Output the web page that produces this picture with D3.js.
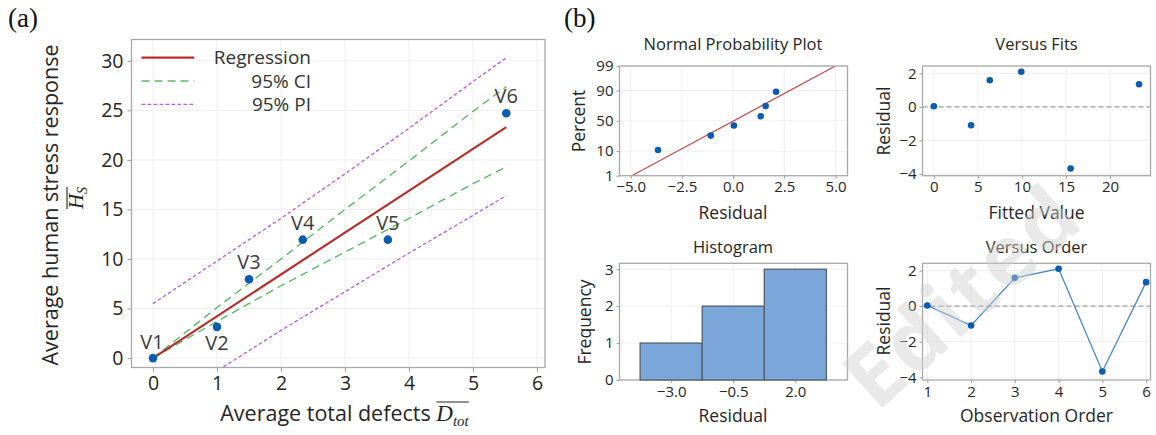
<!DOCTYPE html>
<html>
<head>
<meta charset="utf-8">
<script src="https://cdn.jsdelivr.net/npm/d3@7"></script>
<style>
body { margin: 0; background: #fff; }
svg { font-family: "Open Sans", sans-serif; }
</style>
</head>
<body>
<script>
// (a) regression data
const names = ["V1", "V2", "V3", "V4", "V5", "V6"];
const defects = [0, 1.0, 1.5, 2.34, 3.67, 5.52];
const stress = [0, 3.15, 7.95, 11.95, 11.95, 24.7];
const regX = [0, 5.52];
const regY = [0, 23.3];
const bandX = [0, 1, 2, 3, 4, 5, 5.52];
const ciUpper = [0, 5.1, 10.0, 15.0, 19.9, 24.9, 27.4];
const ciLower = [0, 3.7, 7.3, 10.7, 14.1, 17.6, 19.3];
const piUpper = [5.5, 9.8, 14.1, 18.6, 23.2, 27.9, 30.3];
const piLower = [-5.5, -1.3, 2.8, 6.7, 10.6, 14.4, 16.4];
const aXTicks = [0, 1, 2, 3, 4, 5, 6];
const aYTicks = [0, 5, 10, 15, 20, 25, 30];
const legendNames = ["Regression", "95% CI", "95% PI"];

// (b) residual plots
const fitted = [0, 4.23, 6.35, 9.93, 15.53, 23.3];
const residuals = [0.04, -1.09, 1.59, 2.1, -3.67, 1.35];
const order = [1, 2, 3, 4, 5, 6];
const nppPercent = [10.9, 26.6, 42.2, 57.8, 73.4, 89.1];
const nppLineR = [-4.95, 5.0];
const nppLineP = [1, 99];
const nppXTicks = [-5, -2.5, 0, 2.5, 5];
const nppYTicks = [1, 10, 50, 90, 99];
const fitsXTicks = [0, 5, 10, 15, 20];
const resYTicks = [-4, -2, 0, 2];
const histBins = [[-4.25, -1.75], [-1.75, 0.75], [0.75, 3.25]];
const histCounts = [1, 2, 3];
const histXTicks = [-3.0, -0.5, 2.0];
const histYTicks = [0, 1, 2, 3];

const ink = "#262626";
const dotBlue = "#0b5cad";

const svg = d3.select("body").append("svg")
    .attr("width", 1156).attr("height", 435);

// inverse normal cdf (Winitzki erfinv approximation), used for the probability axis
function probit(p) {
    const x = 2 * p - 1, a = 0.147;
    const ln = Math.log(1 - x * x);
    const t = 2 / (Math.PI * a) + ln / 2;
    return Math.SQRT2 * Math.sign(x) * Math.sqrt(Math.sqrt(t * t - ln / a) - t);
}

let clipCount = 0;
function panel(box, x, y, o) {
    const g = svg.append("g");
    g.append("rect").attr("x", box.l).attr("y", box.t)
        .attr("width", box.r - box.l).attr("height", box.b - box.t).attr("fill", "#fff");
    g.append("g").selectAll("line").data(o.xGrid).join("line")
        .attr("x1", d => x(d)).attr("x2", d => x(d))
        .attr("y1", box.t).attr("y2", box.b)
        .attr("stroke", "#eeeeee").attr("stroke-width", 1);
    g.append("g").selectAll("line").data(o.yGrid).join("line")
        .attr("y1", d => y(d)).attr("y2", d => y(d))
        .attr("x1", box.l).attr("x2", box.r)
        .attr("stroke", "#eeeeee").attr("stroke-width", 1);

    const ax = g.append("g").attr("transform", `translate(0,${box.b})`)
        .call(d3.axisBottom(x).tickValues(o.xTicks).tickFormat(o.xFmt)
            .tickSize(o.tick).tickPadding(o.xPad));
    const ay = g.append("g").attr("transform", `translate(${box.l},0)`)
        .call(d3.axisLeft(y).tickValues(o.yTicks).tickFormat(o.yFmt)
            .tickSize(o.tick).tickPadding(o.yPad));
    [ax, ay].forEach(a => {
        a.select(".domain").remove();
        a.selectAll(".tick line").attr("stroke", "#9a9a9a");
        a.selectAll(".tick text").attr("fill", ink)
            .attr("font-size", o.fs).attr("font-family", "Open Sans");
    });

    const id = "clip" + (clipCount++);
    svg.append("clipPath").attr("id", id).append("rect")
        .attr("x", box.l).attr("y", box.t)
        .attr("width", box.r - box.l).attr("height", box.b - box.t);
    const plot = g.append("g");
    const clipped = plot.append("g").attr("clip-path", `url(#${id})`);
    g.append("rect").attr("x", box.l).attr("y", box.t)
        .attr("width", box.r - box.l).attr("height", box.b - box.t)
        .attr("fill", "none").attr("stroke", "#a8a8a8").attr("stroke-width", 1.3);
    const marks = g.append("g");
    return { g, clipped, marks };
}

function label(text, x, y, fs, rotate) {
    return svg.append("text")
        .attr("transform", `translate(${x},${y})` + (rotate ? " rotate(-90)" : ""))
        .attr("text-anchor", "middle").attr("font-size", fs).attr("fill", ink)
        .text(text);
}

// ---------- (a) ----------
svg.append("text").attr("x", 8).attr("y", 27)
    .attr("font-family", "Liberation Serif").attr("font-size", 27).attr("fill", "#111").text("(a)");
svg.append("text").attr("x", 564).attr("y", 27)
    .attr("font-family", "Liberation Serif").attr("font-size", 27).attr("fill", "#111").text("(b)");

const boxA = { l: 131.5, r: 545, t: 39.5, b: 367.5 };
const xA = d3.scaleLinear().domain([-0.336, 6.125]).range([boxA.l, boxA.r]);
const yA = d3.scaleLinear().domain([-0.95, 32.15]).range([boxA.b, boxA.t]);
const pA = panel(boxA, xA, yA, {
    xGrid: aXTicks, yGrid: aYTicks, xTicks: aXTicks, yTicks: aYTicks,
    xFmt: d3.format("d"), yFmt: d3.format("d"), tick: 4, xPad: 5, yPad: 4, fs: 19.5
});

const bandLine = vals => d3.line().x((d, i) => xA(bandX[i])).y(d => yA(d))(vals);
[piUpper, piLower].forEach(v => pA.clipped.append("path").attr("d", bandLine(v))
    .attr("fill", "none").attr("stroke", "#bf55e6").attr("stroke-width", 1.3)
    .attr("stroke-dasharray", "3.5,2.5"));
[ciUpper, ciLower].forEach(v => pA.clipped.append("path").attr("d", bandLine(v))
    .attr("fill", "none").attr("stroke", "#5db86a").attr("stroke-width", 1.4)
    .attr("stroke-dasharray", "8,5"));
pA.clipped.append("path")
    .attr("d", d3.line().x((d, i) => xA(regX[i])).y(d => yA(d))(regY))
    .attr("fill", "none").attr("stroke", "#b3302e").attr("stroke-width", 2.2);

pA.marks.selectAll("circle").data(names).join("circle")
    .attr("cx", (d, i) => xA(defects[i])).attr("cy", (d, i) => yA(stress[i]))
    .attr("r", 4.3).attr("fill", dotBlue);
const below = ["V2"];
pA.marks.selectAll("text").data(names).join("text")
    .attr("x", (d, i) => xA(defects[i]) + (i === 0 ? -1 : 0))
    .attr("y", (d, i) => yA(stress[i]) + (below.includes(d) ? 23 : (i === 0 ? -9 : -10)))
    .attr("text-anchor", "middle").attr("font-size", 20).attr("fill", "#3c3c3c")
    .text(d => d);

// legend
const legStyles = [
    { c: "#b3302e", w: 2.2, dash: null },
    { c: "#5db86a", w: 1.4, dash: "8,5" },
    { c: "#bf55e6", w: 1.3, dash: "3.5,2.5" }
];
const leg = svg.append("g");
legendNames.forEach((n, i) => {
    const yy = 57.7 + i * 23.3;
    leg.append("line").attr("x1", 141.5).attr("x2", 194.3).attr("y1", yy).attr("y2", yy)
        .attr("stroke", legStyles[i].c).attr("stroke-width", legStyles[i].w)
        .attr("stroke-dasharray", legStyles[i].dash);
    leg.append("text").attr("x", 311).attr("y", yy + 6.5).attr("text-anchor", "end")
        .attr("font-size", 19).attr("fill", "#333").text(n);
});

// axis titles with math
label("Average human stress response", 58, 205, 21.5, true);
const hs = svg.append("g").attr("transform", "translate(83,198) rotate(-90)");
const hsT = hs.append("text").attr("text-anchor", "middle").attr("fill", ink)
    .attr("font-family", "Liberation Serif").attr("font-style", "italic").attr("font-size", 21);
hsT.append("tspan").text("H");
hsT.append("tspan").attr("font-size", 14).attr("dy", 4).text("S");
{
    const n = hsT.node();
    const a = n.getExtentOfChar(0), b = n.getExtentOfChar(1);
    hs.append("line").attr("x1", a.x).attr("x2", b.x + b.width).attr("y1", -16).attr("y2", -16)
        .attr("stroke", ink).attr("stroke-width", 1.1);
}
const pre = "Average total defects ";
const xl = svg.append("text").attr("x", 344.5).attr("y", 420.7)
    .attr("text-anchor", "middle").attr("font-size", 21.5).attr("fill", ink);
xl.append("tspan").text(pre);
xl.append("tspan").attr("font-family", "Liberation Serif").attr("font-style", "italic")
    .attr("font-size", 23).text("D");
xl.append("tspan").attr("font-family", "Liberation Serif").attr("font-style", "italic")
    .attr("font-size", 15).attr("dy", 5).text("tot");
{
    const n = xl.node();
    const a = n.getExtentOfChar(pre.length), b = n.getExtentOfChar(n.getNumberOfChars() - 1);
    svg.append("line").attr("x1", a.x).attr("x2", b.x + b.width).attr("y1", 402).attr("y2", 402)
        .attr("stroke", ink).attr("stroke-width", 1.1);
}

// ---------- (b) ----------
const fsT = 16.5, fsL = 17.5, fsK = 15;
const boxN = { l: 619.5, r: 847.5, t: 66, b: 175.7 };
const boxF = { l: 922.5, r: 1150.5, t: 66, b: 175.7 };
const boxH = { l: 619.5, r: 847.5, t: 263.3, b: 380 };
const boxO = { l: 922.5, r: 1150.5, t: 263.3, b: 380 };

// normal probability plot
const xN = d3.scaleLinear().domain([-5.55, 5.59]).range([boxN.l, boxN.r]);
const zN = d3.scaleLinear().domain([probit(0.01), probit(0.99)]).range([boxN.b, boxN.t]);
const zTicks = nppYTicks.map(p => probit(p / 100));
const pN = panel(boxN, xN, zN, {
    xGrid: nppXTicks, yGrid: zTicks, xTicks: nppXTicks, yTicks: zTicks,
    xFmt: d3.format(".1f"), yFmt: (d, i) => nppYTicks[i], tick: 3, xPad: 3, yPad: 3, fs: fsK
});
pN.clipped.append("line")
    .attr("x1", xN(nppLineR[0])).attr("y1", zN(probit(nppLineP[0] / 100)))
    .attr("x2", xN(nppLineR[1])).attr("y2", zN(probit(nppLineP[1] / 100)))
    .attr("stroke", "#c0504d").attr("stroke-width", 1.2);
const sortedRes = residuals.slice().sort(d3.ascending);
pN.marks.selectAll("circle").data(sortedRes).join("circle")
    .attr("cx", d => xN(d)).attr("cy", (d, i) => zN(probit(nppPercent[i] / 100)))
    .attr("r", 3.3).attr("fill", dotBlue);
label("Normal Probability Plot", 733, 50, fsT);
label("Residual", 733, 219, fsL);
label("Percent", 585, 121, fsL, true);

// versus fits
const xF = d3.scaleLinear().domain([-1.29, 24.6]).range([boxF.l, boxF.r]);
const yF = d3.scaleLinear().domain([-4.1, 2.44]).range([boxF.b, boxF.t]);
const pF = panel(boxF, xF, yF, {
    xGrid: fitsXTicks, yGrid: resYTicks, xTicks: fitsXTicks, yTicks: resYTicks,
    xFmt: d3.format("d"), yFmt: d3.format("d"), tick: 3, xPad: 3, yPad: 3, fs: fsK
});
pF.clipped.append("line").attr("x1", boxF.l).attr("x2", boxF.r)
    .attr("y1", yF(0)).attr("y2", yF(0))
    .attr("stroke", "#a0a0a0").attr("stroke-width", 1.2).attr("stroke-dasharray", "5,3");
pF.marks.selectAll("circle").data(residuals).join("circle")
    .attr("cx", (d, i) => xF(fitted[i])).attr("cy", d => yF(d))
    .attr("r", 3.3).attr("fill", dotBlue);
label("Versus Fits", 1036.5, 50, fsT);
label("Fitted Value", 1036.5, 219, fsL);
label("Residual", 890, 121, fsL, true);

// histogram
const xH = d3.scaleLinear().domain([-5.08, 4.1]).range([boxH.l, boxH.r]);
const yH = d3.scaleLinear().domain([0, 3.16]).range([boxH.b, boxH.t]);
const pH = panel(boxH, xH, yH, {
    xGrid: histXTicks, yGrid: histYTicks, xTicks: histXTicks, yTicks: histYTicks,
    xFmt: d3.format(".1f"), yFmt: d3.format("d"), tick: 3, xPad: 3, yPad: 3, fs: fsK
});
pH.marks.selectAll("rect").data(histCounts).join("rect")
    .attr("x", (d, i) => xH(histBins[i][0])).attr("width", (d, i) => xH(histBins[i][1]) - xH(histBins[i][0]))
    .attr("y", d => yH(d)).attr("height", d => yH(0) - yH(d))
    .attr("fill", "#7ba6d9").attr("stroke", "#56606c").attr("stroke-width", 1.3);
label("Histogram", 733, 253, fsT);
label("Residual", 733, 422, fsL);
label("Frequency", 591, 322, fsL, true);

// versus order
const xO = d3.scaleLinear().domain([0.89, 6.1]).range([boxO.l, boxO.r]);
const yO = d3.scaleLinear().domain([-4.15, 2.41]).range([boxO.b, boxO.t]);
const pO = panel(boxO, xO, yO, {
    xGrid: order, yGrid: resYTicks, xTicks: order, yTicks: resYTicks,
    xFmt: d3.format("d"), yFmt: d3.format("d"), tick: 3, xPad: 3, yPad: 3, fs: fsK
});
pO.clipped.append("line").attr("x1", boxO.l).attr("x2", boxO.r)
    .attr("y1", yO(0)).attr("y2", yO(0))
    .attr("stroke", "#a0a0a0").attr("stroke-width", 1.2).attr("stroke-dasharray", "5,3");
pO.marks.append("path")
    .attr("d", d3.line().x((d, i) => xO(order[i])).y(d => yO(d))(residuals))
    .attr("fill", "none").attr("stroke", "#4a86cf").attr("stroke-width", 1.3);
pO.marks.selectAll("circle").data(residuals).join("circle")
    .attr("cx", (d, i) => xO(order[i])).attr("cy", d => yO(d))
    .attr("r", 3.3).attr("fill", dotBlue);
label("Versus Order", 1036.5, 253, fsT);
label("Observation Order", 1036.5, 422, fsL);
label("Residual", 890, 321, fsL, true);

// watermark
svg.append("text").attr("transform", "translate(982,318) rotate(-42)")
    .attr("text-anchor", "middle").attr("font-size", 84).attr("font-weight", "bold")
    .attr("letter-spacing", 3)
    .attr("fill", "#cfcfcf").attr("opacity", 0.45).text("Edited");
</script>
</body>
</html>
